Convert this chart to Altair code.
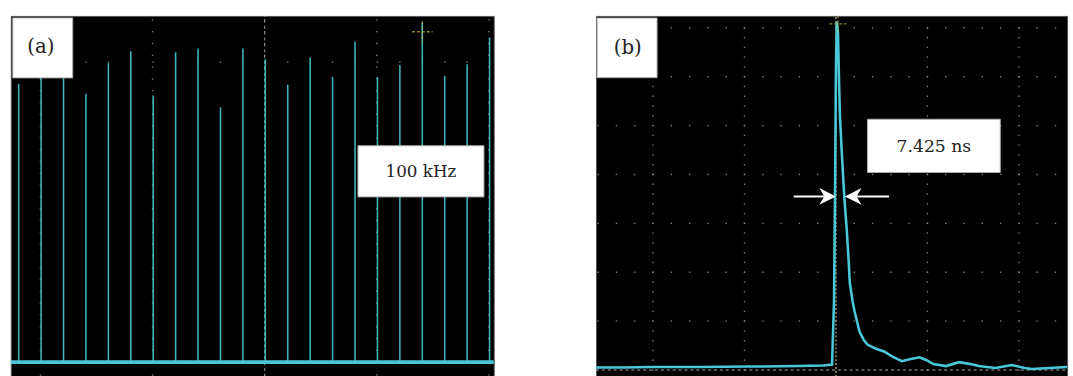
import altair as alt
import pandas as pd

# ---------------- Panel (a): 100 kHz pulse train (time in µs, amplitude in a.u.)
pulse_t = [3.5, 13.5, 23.5, 33.5, 43.5, 53.5, 63.5, 73.5, 83.5, 93.5, 103.5,
           113.5, 123.5, 133.5, 143.5, 153.5, 163.5, 173.5, 183.5, 193.5, 203.5, 213.5]
pulse_amp = [5.66, 5.78, 5.78, 5.46, 6.08, 6.32, 5.42, 6.30, 6.38, 5.18, 6.38,
             6.16, 5.64, 6.20, 5.80, 6.52, 5.80, 6.04, 6.90, 5.82, 6.06, 6.60]
a_xdom = [0, 215.35]
a_ydom = [-0.3, 7.04]
a_major_cols = [13.2, 63.2, 113.2, 163.2, 213.2]
a_center = 113.2
a_cursor = (183.5, 6.72)

# ---------------- Panel (b): single pulse (time in ns, amplitude in divisions)
b_t = [-131.2, -117.2, -101.1, -74.2, -47.3, -20.4, -7.0, -2.15, -1.08, -0.54, 0.0,
       0.43, 1.08, 1.61, 2.15, 3.23, 4.57, 5.91, 6.99, 7.53, 9.14, 10.2, 11.8, 12.9,
       15.1, 17.2, 21.5, 26.3, 30.6, 36.0, 40.3, 45.7, 49.5, 53.2, 60.2, 67.2, 73.7,
       78.0, 87.1, 96.2, 103.2, 107.0, 116.7, 126.3]
b_v = [0.05, 0.05, 0.06, 0.06, 0.07, 0.08, 0.09, 0.11, 1.39, 3.52, 6.22,
       7.12, 6.92, 6.02, 5.21, 4.41, 3.52, 2.86, 2.19, 1.79, 1.39, 1.19, 0.95, 0.78,
       0.62, 0.52, 0.44, 0.38, 0.28, 0.18, 0.22, 0.26, 0.20, 0.12, 0.08, 0.16, 0.12,
       0.08, 0.04, 0.10, 0.04, 0.02, 0.04, 0.06]
b_xdom = [-131.18, 126.34]
b_ydom = [-0.141, 7.243]
b_major_cols = [-100, -50, 50, 100]
b_rows = [1, 2, 3, 4, 5, 6, 7]
b_cursor = (1.08, 7.08)
fwhm_level = 3.55
arrow_left = (-23.1, 0.0)   # tail, tip
arrow_right = (29.0, 4.84)  # tail, tip

TRACE = "#3fb4b8"
TRACE_B = "#48c8d8"
GRID = "#8a8a8a"
CURSOR = "#c9bf3a"
FONT = "DejaVu Serif"


def sx(dom):
    return alt.Scale(domain=dom, nice=False, zero=False)


def panel_layers(xdom, ydom):
    X = lambda f: alt.X(f, type="quantitative", scale=sx(xdom), axis=None)
    Y = lambda f: alt.Y(f, type="quantitative", scale=sx(ydom), axis=None)
    return X, Y


def label(X, Y, t, v, txt, fs):
    return alt.Chart(pd.DataFrame({"t": [t], "v": [v], "label": [txt]})).mark_text(
        font=FONT, fontSize=fs, color="#222222", align="center", baseline="middle"
    ).encode(x=X("t"), y=Y("v"), text="label:N")


# ---------- Panel (a)
Xa, Ya = panel_layers(a_xdom, a_ydom)

a_dots = []
for c in a_major_cols:
    v = 0.0
    while v < 7.0:
        a_dots.append({"t": c, "v": v})
        v += 0.24
for t in pulse_t:
    a_dots.append({"t": t, "v": 6.1})
for c in a_major_cols:
    a_dots.append({"t": c, "v": -0.26})
a_grid = alt.Chart(pd.DataFrame(a_dots)).mark_point(
    shape="square", size=2, filled=True, color=GRID, opacity=0.9
).encode(x=Xa("t"), y=Ya("v"))

a_center_line = alt.Chart(pd.DataFrame({"t": [a_center], "y0": [a_ydom[0]], "y1": [a_ydom[1]]})).mark_rule(
    color="#9a9a9a", strokeDash=[3, 3], strokeWidth=1
).encode(x=Xa("t"), y=Ya("y0"), y2="y1")

pulses_df = pd.DataFrame({"t": pulse_t, "amp": pulse_amp, "z": [0.0] * len(pulse_t)})
a_pulses = alt.Chart(pulses_df).mark_rule(color=TRACE, strokeWidth=1.6).encode(
    x=Xa("t"), y=Ya("z"), y2="amp"
)
a_base_df = pd.DataFrame({"t0": [a_xdom[0]], "t1": [a_xdom[1]], "v": [0.0]})
a_base = alt.Chart(a_base_df).mark_rule(color="#4cc6d6", strokeWidth=4).encode(
    x=Xa("t0"), x2="t1", y=Ya("v")
)
a_cur = alt.Chart(pd.DataFrame({"t": [a_cursor[0]], "v": [a_cursor[1]]})).mark_point(
    shape="M-1,0L1,0M0,-1L0,1", size=440, color=CURSOR, strokeWidth=1.5,
    strokeDash=[3, 2], filled=False
).encode(x=Xa("t"), y=Ya("v"))

a_box = alt.Chart(pd.DataFrame({
    "x0": [0.88, 154.8], "x1": [27.6, 211.0], "y0": [5.78, 3.36], "y1": [7.0, 4.40]
})).mark_rect(fill="white", stroke="#aaaaaa", strokeWidth=1).encode(
    x=Xa("x0"), x2="x1", y=Ya("y0"), y2="y1"
)
a_lab1 = label(Xa, Ya, 13.4, 6.40, "(a)", 20)
a_lab2 = label(Xa, Ya, 182.9, 3.86, "100 kHz", 17)

panel_a = alt.layer(a_grid, a_center_line, a_pulses, a_base, a_cur, a_box, a_lab1, a_lab2).properties(
    width=491, height=367
)

# ---------- Panel (b)
Xb, Yb = panel_layers(b_xdom, b_ydom)

b_dots = []
for c in b_major_cols:
    v = 0.0
    while v < 7.2:
        b_dots.append({"t": c, "v": v})
        v += 0.2
for r in b_rows:
    t = -130.0
    while t < 126:
        b_dots.append({"t": t, "v": r})
        t += 10.0
b_grid = alt.Chart(pd.DataFrame(b_dots)).mark_point(
    shape="square", size=2, filled=True, color=GRID, opacity=0.9
).encode(x=Xb("t"), y=Yb("v"))

b_center = alt.Chart(pd.DataFrame({"t": [0.0], "y0": [b_ydom[0]], "y1": [b_ydom[1]]})).mark_rule(
    color="#b8b48a", strokeDash=[2, 2], strokeWidth=1.2
).encode(x=Xb("t"), y=Yb("y0"), y2="y1")
b_ground = alt.Chart(pd.DataFrame({"t0": [b_xdom[0]], "t1": [b_xdom[1]], "v": [0.0]})).mark_rule(
    color="#a8a8a8", strokeDash=[3, 3], strokeWidth=1.2
).encode(x=Xb("t0"), x2="t1", y=Yb("v"))

b_trace = alt.Chart(pd.DataFrame({"t": b_t, "v": b_v})).mark_line(
    color=TRACE_B, strokeWidth=2.6, interpolate="linear"
).encode(x=Xb("t"), y=Yb("v"), order="t:Q")

b_cur = alt.Chart(pd.DataFrame({"t": [b_cursor[0]], "v": [b_cursor[1]]})).mark_point(
    shape="M-1,0L1,0M0,-1L0,1", size=300, color=CURSOR, strokeWidth=1.3,
    strokeDash=[3, 2], filled=False
).encode(x=Xb("t"), y=Yb("v"))

shaft_df = pd.DataFrame({
    "t0": [arrow_left[0], arrow_right[1] + 5.0],
    "t1": [arrow_left[1] - 5.0, arrow_right[0]],
    "v": [fwhm_level, fwhm_level],
})
b_shafts = alt.Chart(shaft_df).mark_rule(color="white", strokeWidth=2).encode(
    x=Xb("t0"), x2="t1", y=Yb("v")
)
b_head_r = alt.Chart(pd.DataFrame({"t": [arrow_left[1]], "v": [fwhm_level]})).mark_point(
    shape="M0,0L-1,-0.5L-0.7,0L-1,0.5Z", size=1150, filled=True, color="white", opacity=1
).encode(x=Xb("t"), y=Yb("v"))
b_head_l = alt.Chart(pd.DataFrame({"t": [arrow_right[1]], "v": [fwhm_level]})).mark_point(
    shape="M0,0L1,-0.5L0.7,0L1,0.5Z", size=1150, filled=True, color="white", opacity=1
).encode(x=Xb("t"), y=Yb("v"))

b_box = alt.Chart(pd.DataFrame({
    "x0": [-130.6, 17.2], "x1": [-97.8, 89.8], "y0": [5.98, 4.04], "y1": [7.20, 5.13]
})).mark_rect(fill="white", stroke="#aaaaaa", strokeWidth=1).encode(
    x=Xb("x0"), x2="x1", y=Yb("y0"), y2="y1"
)
b_lab1 = label(Xb, Yb, -113.8, 6.58, "(b)", 20)
b_lab2 = label(Xb, Yb, 53.5, 4.56, "7.425 ns", 17.5)

panel_b = alt.layer(b_grid, b_center, b_ground, b_trace, b_cur, b_shafts, b_head_r,
                    b_head_l, b_box, b_lab1, b_lab2).properties(width=479, height=367)

chart = alt.hconcat(panel_a, panel_b, spacing=95).properties(
    padding={"left": 8, "top": 9, "right": 0, "bottom": 0},
    background="white",
).configure_view(fill="black", stroke="#555555", strokeWidth=1)

chart.save("out.html", embed_options={"renderer": "svg", "actions": False})
